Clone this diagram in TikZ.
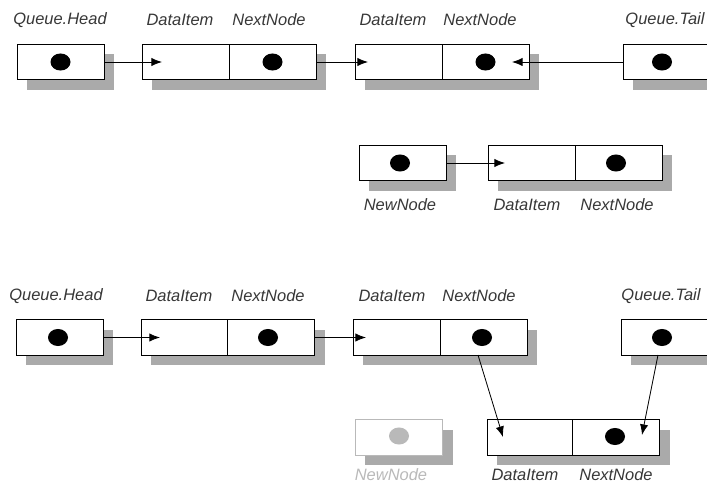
\documentclass[tikz,border=0pt]{standalone}
\usepackage{fontspec}
\setmainfont{Liberation Sans}
\usetikzlibrary{arrows.meta,shapes.geometric,shadows}
\definecolor{lblgrey}{RGB}{55,55,55}
\definecolor{shadegrey}{RGB}{170,170,170}
\definecolor{ghostgrey}{RGB}{185,185,185}

\begin{document}
\begin{tikzpicture}[x=0.85pt,y=-0.85pt,
  cell/.style={draw,fill=white,line width=0.7pt,minimum width=74pt,minimum height=30pt,
               inner sep=0pt,
               drop shadow={shadow xshift=8.5pt,shadow yshift=-8.5pt,fill=shadegrey,opacity=1}},
  ghost/.style={cell,draw=ghostgrey},
  dot/.style={ellipse,fill=black,minimum width=17pt,minimum height=14.5pt,inner sep=0pt},
  lbl/.style={font=\fontsize{14}{16}\selectfont\itshape,text=lblgrey,inner sep=0pt},
  ar/.style={-{Latex[length=9pt,width=7pt]},line width=0.7pt}]
\clip (0,0) rectangle (707,485);

% --- before: queue of two nodes, NewNode standing apart
\node[cell] (hA)  at (60.5,62)  {};
\node[cell] (a1d) at (185.5,62) {};
\node[cell] (a1n) at (272.5,62) {};
\node[cell] (a2d) at (398.5,62) {};
\node[cell] (a2n) at (485.5,62) {};
\node[cell] (tA)  at (666.5,62) {};
\node[dot] at (hA)  {};
\node[dot] at (a1n) {};
\node[dot] at (a2n) {};
\node[dot] at (662,62) {};
\coordinate (a1tip) at (162,62);
\coordinate (a2tip) at (368,62);
\coordinate (tAtip) at (512,62);

\node[lbl] at (60,20)  {Queue.Head};
\node[lbl] at (180,20) {DataItem};
\node[lbl] at (269,20) {NextNode};
\node[lbl] at (393,20) {DataItem};
\node[lbl] at (480,20) {NextNode};
\node[lbl] at (665,20) {Queue.Tail};

\node[cell] (nw)  at (402.5,163) {};
\node[cell] (b1d) at (531.5,163) {};
\node[cell] (b1n) at (618.5,163) {};
\node[dot] at (400,163) {};
\node[dot] at (616,163) {};
\coordinate (b1tip) at (505,163);

\node[lbl] at (400,205) {NewNode};
\node[lbl] at (527,205) {DataItem};
\node[lbl] at (617,205) {NextNode};

% --- after: NewNode linked in, Tail moved on
\node[cell] (hB)  at (59.5,337.5)  {};
\node[cell] (c1d) at (185,337.5)   {};
\node[cell] (c1n) at (271,337.5)   {};
\node[cell] (c2d) at (396.5,337.5) {};
\node[cell] (c2n) at (483.5,337.5) {};
\node[cell] (tB)  at (664.5,337.5) {};
\node[dot] at (58,337.5)  {};
\node[dot] at (268,337.5) {};
\node[dot] at (482,337.5) {};
\node[dot] at (662,337.5) {};
\coordinate (c1tip) at (160,337.5);
\coordinate (c2tip) at (366,337.5);
\coordinate (c2out) at (478,355);
\coordinate (tBout) at (658,355);

\node[lbl] at (56,296)  {Queue.Head};
\node[lbl] at (179,296) {DataItem};
\node[lbl] at (268,296) {NextNode};
\node[lbl] at (392,296) {DataItem};
\node[lbl] at (479,296) {NextNode};
\node[lbl] at (661,296) {Queue.Tail};

\node[ghost] (gw) at (399,437.5) {};
\node[dot,fill=ghostgrey] at (399,436) {};
\node[cell] (d1d) at (530.5,437.5) {};
\node[cell] (d1n) at (616,437.5)   {};
\node[dot] at (615,436.5) {};
\coordinate (d1tip) at (503,437);
\coordinate (d1ntip) at (642,435);

\node[lbl,text=ghostgrey] at (391,475) {NewNode};
\node[lbl] at (525,475) {DataItem};
\node[lbl] at (616,475) {NextNode};

\foreach \a/\b in {hA.east/a1tip,a1n.east/a2tip,tA.west/tAtip,nw.east/b1tip,
                   hB.east/c1tip,c1n.east/c2tip,c2out/d1tip,tBout/d1ntip}
  \draw[ar] (\a) -- (\b);
\end{tikzpicture}
\end{document}
